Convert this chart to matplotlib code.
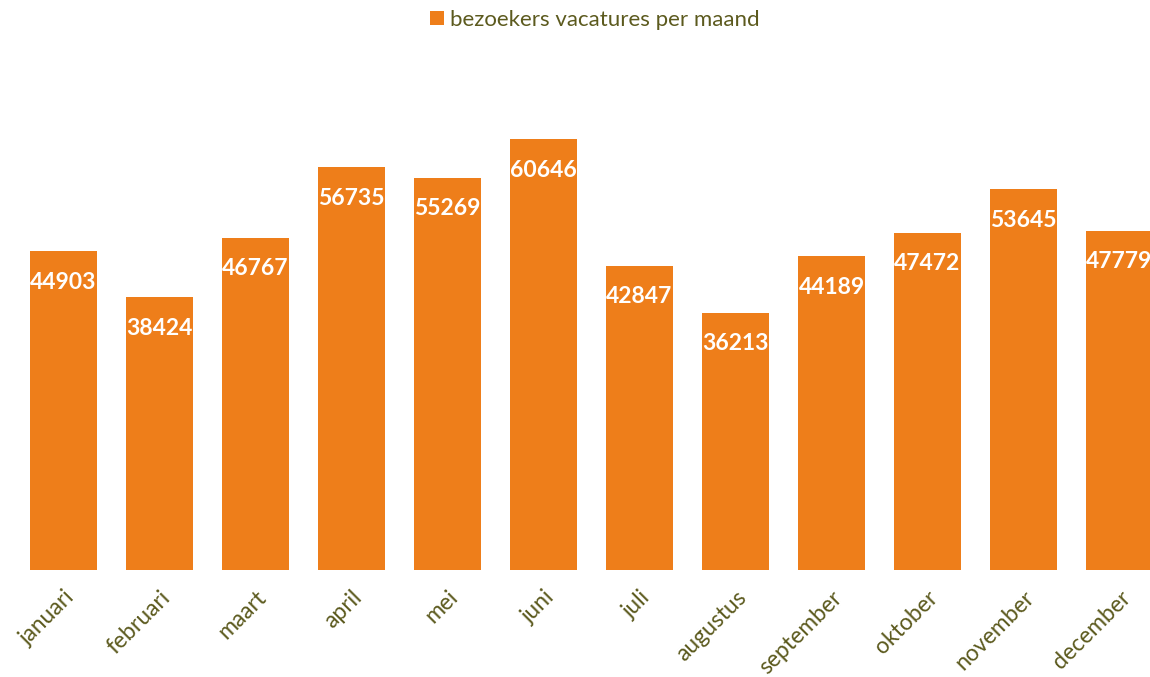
import matplotlib.pyplot as plt
import numpy as np

maanden = ["januari", "februari", "maart", "april", "mei", "juni", "juli",
           "augustus", "september", "oktober", "november", "december"]
bezoekers = [44903, 38424, 46767, 56735, 55269, 60646, 42847,
             36213, 44189, 47472, 53645, 47779]

oranje = "#EE7E1A"
tekst = "#5C5A1E"
plt.rcParams['font.family'] = ['Lato', 'DejaVu Sans']

fig = plt.figure(figsize=(11.5, 6.77), dpi=100)
# axes runs slightly past the right edge, like the original
ax = fig.add_axes([15.5 / 1150, 107 / 677, 1152 / 1150, 497 / 677])

x = np.arange(len(maanden))
bars = ax.bar(x, bezoekers, width=0.70, color=oranje, label="bezoekers vacatures per maand")

for xi, v in zip(x, bezoekers):
    ax.annotate(str(v), (xi, v), xytext=(0, -31), textcoords="offset pixels",
                ha="center", va="center", color="white", fontsize=16.5, fontweight="bold")

ax.set_xlim(-0.5, len(maanden) - 0.5)
ax.set_ylim(0, 70000)
ax.set_xticks(x)
ax.set_xticklabels(maanden, rotation=45, ha="right", va="top",
                   rotation_mode="anchor", color=tekst, fontsize=16.5)
ax.tick_params(axis="x", length=0, pad=12)
ax.set_yticks([])
for s in ax.spines.values():
    s.set_visible(False)

fig.legend(handles=[bars], labels=["bezoekers vacatures per maand"], loc="center",
           bbox_to_anchor=(595 / 1150, 1 - 20 / 677), frameon=False, fontsize=16,
           labelcolor=tekst, handlelength=0.6, handleheight=0.6, handletextpad=0.3)

fig.savefig("out.png", dpi=100)
